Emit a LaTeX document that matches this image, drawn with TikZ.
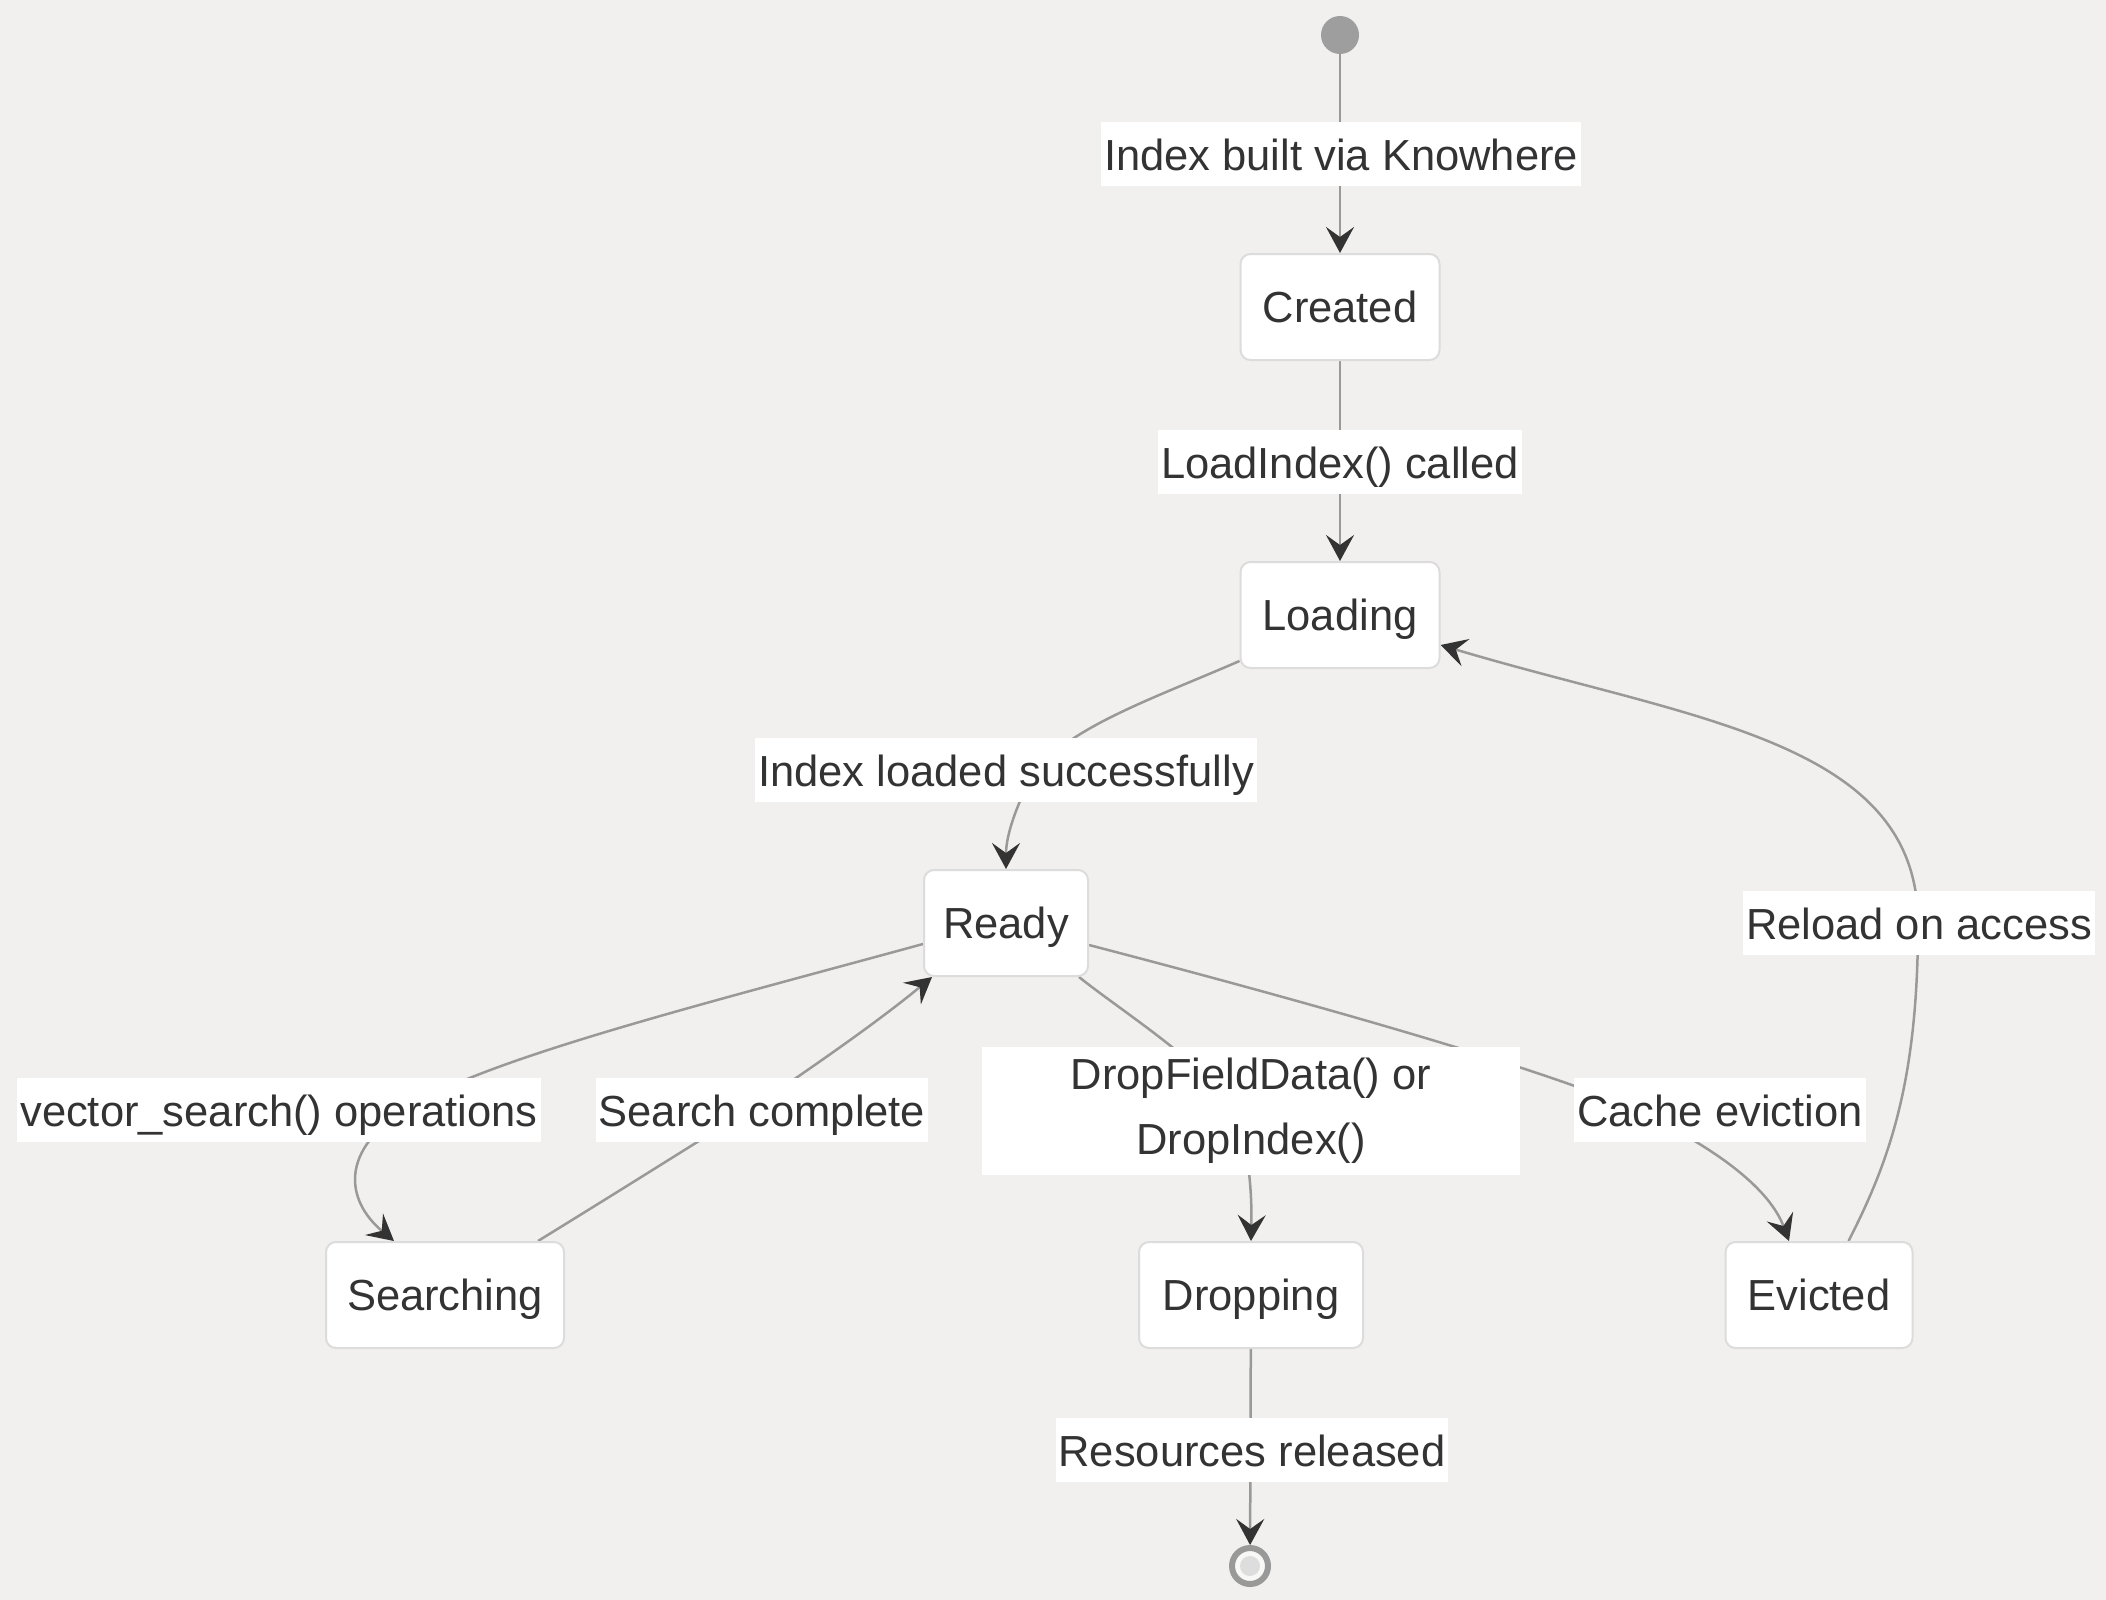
\documentclass[tikz,border=0pt]{standalone}
\usepackage{fontspec}
\setmainfont{Liberation Sans}
\usetikzlibrary{arrows.meta}
\definecolor{bgc}{HTML}{F1F0EE}
\definecolor{txtc}{HTML}{333333}
\definecolor{linec}{HTML}{999999}
\definecolor{boxline}{HTML}{DCDCDC}
\definecolor{startc}{HTML}{9E9E9E}
\definecolor{endin}{HTML}{DDDDDD}
\pgfdeclarelayer{bglayer}
\pgfdeclarelayer{edges}
\pgfsetlayers{bglayer,edges,main}
\begin{document}
\begin{tikzpicture}[x=1pt,y=-1pt,
  state/.style={draw=boxline, line width=2pt, fill=white, rounded corners=10pt,
    minimum height=106pt, inner sep=0pt, text=txtc, text height=31pt, text depth=0pt,
    font=\fontsize{43.5}{50}\selectfont},
  elabel/.style={fill=white, text=txtc, inner xsep=3pt, inner ysep=12pt,
    text height=36pt, text depth=4pt, font=\fontsize{43.5}{50}\selectfont},
  edge/.style={draw=linec, line width=2.5pt,
    -{Stealth[length=26pt,width=28pt,inset=10pt,color=txtc]}},
]
\begin{pgfonlayer}{bglayer}
\useasboundingbox[fill=bgc] (0,0) rectangle (2106,1600);
\end{pgfonlayer}

% states
\node[circle, fill=startc, minimum size=38pt, inner sep=0pt] (start) at (1340,35) {};
\node[state, minimum width=199pt] (created) at (1340,307) {Created};
\node[state, minimum width=199pt] (loading) at (1340,615) {Loading};
\node[state, minimum width=164pt] (ready) at (1006,923) {Ready};
\node[state, minimum width=238pt] (searching) at (445,1295) {Searching};
\node[state, minimum width=224pt] (dropping) at (1251,1295) {Dropping};
\node[state, minimum width=187pt] (evicted) at (1819,1295) {Evicted};
\node[circle, draw=linec, line width=6pt, fill=white!50!bgc, minimum size=36pt, inner sep=0pt] (end) at (1250,1566) {};
\node[circle, fill=endin, minimum size=20pt, inner sep=0pt] (endin) at (end.center) {};

% edge labels
\node[elabel] (l1) at (1341,154) {Index built via Knowhere};
\node[elabel] (l2) at (1340,462) {LoadIndex() called};
\node[elabel] (l3) at (1006,770) {Index loaded successfully};
\node[elabel] (l4) at (279,1110) {vector\_search() operations};
\node[elabel] (l5) at (762,1110) {Search complete};
\node[fill=white, text=txtc, inner sep=0pt, minimum width=538pt, minimum height=128pt,
  align=center, font=\fontsize{43.5}{65}\selectfont] (l6) at (1251,1111) {DropFieldData() or\\DropIndex()};
\node[elabel] (l7) at (1720,1110) {Cache eviction};
\node[elabel] (l8) at (1919,923) {Reload on access};
\node[elabel] (l9) at (1252,1450) {Resources released};

\begin{pgfonlayer}{edges}
\draw[edge] (start) -- (created);
\draw[edge] (created) -- (loading);
\draw[edge] ([yshift=8pt]loading.south west) .. controls (1150,700) and (1060,730) .. (1030,780)
  .. controls (1012,815) and (1006,840) .. (ready.north);
\draw[edge] ([yshift=-21pt]ready.west) .. controls (700,1005) and (480,1060) .. (405,1110)
  .. controls (340,1150) and (345,1200) .. ([xshift=-51pt]searching.north);
\draw[edge] ([xshift=-27pt]searching.north east) .. controls (650,1172) and (700,1140) .. (752,1108)
  .. controls (820,1062) and (880,1020) .. ([xshift=9pt]ready.south west);
\draw[edge] ([xshift=-10pt]ready.south east) .. controls (1120,1010) and (1200,1060) .. (1235,1109)
  .. controls (1250,1150) and (1252,1200) .. (dropping.north);
\draw[edge] ([yshift=-22pt]ready.east) .. controls (1300,1000) and (1550,1070) .. (1640,1112)
  .. controls (1720,1150) and (1770,1190) .. ([xshift=-30pt]evicted.north);
\draw[edge] ([xshift=-65pt]evicted.north east) .. controls (1890,1160) and (1918,1080) .. (1918,923)
  .. controls (1918,740) and (1691,720) .. ([yshift=24pt]loading.south east);
\draw[edge] (dropping) -- (end);
\end{pgfonlayer}
\end{tikzpicture}
\end{document}
